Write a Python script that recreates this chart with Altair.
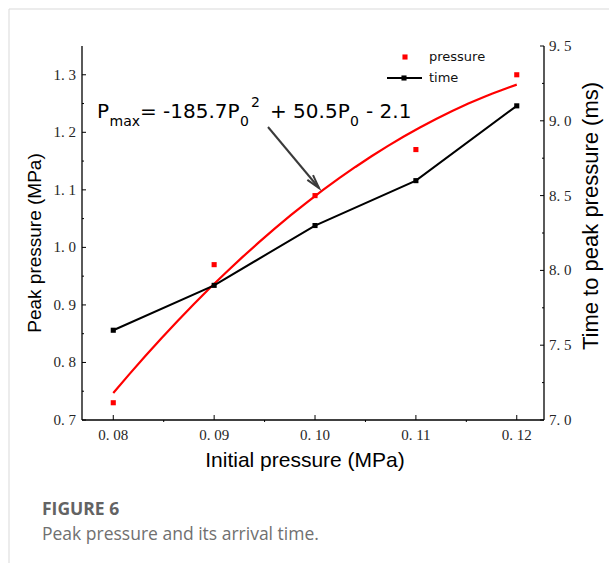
import altair as alt
import pandas as pd

# ---------------- data ----------------
initial_pressure = [0.08, 0.09, 0.10, 0.11, 0.12]
peak_pressure = [0.73, 0.97, 1.09, 1.17, 1.30]
peak_time = [7.6, 7.9, 8.3, 8.6, 9.1]

x_major = [0.08, 0.09, 0.10, 0.11, 0.12]
x_labels = ["0. 08", "0. 09", "0. 10", "0. 11", "0. 12"]
x_minor = [0.085, 0.095, 0.105, 0.115]
p_major = [0.7, 0.8, 0.9, 1.0, 1.1, 1.2, 1.3]
p_labels = ["0. 7", "0. 8", "0. 9", "1. 0", "1. 1", "1. 2", "1. 3"]
p_minor = [0.75, 0.85, 0.95, 1.05, 1.15, 1.25]
t_major = [7.0, 7.5, 8.0, 8.5, 9.0, 9.5]
t_labels = ["7. 0", "7. 5", "8. 0", "8. 5", "9. 0", "9. 5"]
t_minor = [7.25, 7.75, 8.25, 8.75, 9.25]

df = pd.DataFrame({"P0": initial_pressure, "Pmax": peak_pressure, "t": peak_time})
one = pd.DataFrame({"k": [0]})

# ---------------- layout ----------------
W, H = 462, 374
PAD = {"left": 82, "top": 46, "right": 65, "bottom": 143}
LABEL_FONT = "Liberation Serif"
LABEL_SIZE = 15
LABEL_COLOR = "#262626"

xscale = alt.Scale(domain=[0.0769, 0.1227], nice=False, zero=False)
pscale = alt.Scale(domain=[0.7, 1.35], nice=False, zero=False)
tscale = alt.Scale(domain=[7.0, 9.5], nice=False, zero=False)

X = alt.X("P0:Q", scale=xscale, axis=None)
base = alt.Chart(df)


def rule(**enc):
    return alt.Chart(one).mark_rule(color="black", strokeWidth=1.3).encode(**enc)


# ---- pressure (left axis) ----
red_pts = base.mark_square(color="#ff0000", size=26, opacity=1).encode(
    x=X, y=alt.Y("Pmax:Q", scale=pscale, axis=None))
fit = base.transform_regression("P0", "Pmax", method="poly", order=2).mark_line(
    color="#ff0000", strokeWidth=2.2).encode(
    x=X, y=alt.Y("Pmax:Q", scale=pscale, axis=None))
p_maj_ticks = alt.Chart(pd.DataFrame({"v": p_major})).mark_rule(color="black", strokeWidth=1).encode(
    y=alt.Y("v:Q", scale=pscale, axis=None), x=alt.value(0), x2=alt.value(4))
p_min_ticks = alt.Chart(pd.DataFrame({"v": p_minor})).mark_rule(color="black", strokeWidth=1).encode(
    y=alt.Y("v:Q", scale=pscale, axis=None), x=alt.value(0), x2=alt.value(2))
p_lab = alt.Chart(pd.DataFrame({"v": p_major, "lab": p_labels})).mark_text(
    font=LABEL_FONT, fontSize=LABEL_SIZE, color=LABEL_COLOR, align="right", baseline="middle").encode(
    y=alt.Y("v:Q", scale=pscale, axis=None), x=alt.value(-6), text="lab:N")
pressure_group = alt.layer(fit, red_pts, p_maj_ticks, p_min_ticks, p_lab)

# ---- time (right axis) ----
t_line = base.mark_line(color="black", strokeWidth=2).encode(
    x=X, y=alt.Y("t:Q", scale=tscale, axis=None))
t_pts = base.mark_square(color="black", size=26, opacity=1).encode(
    x=X, y=alt.Y("t:Q", scale=tscale, axis=None))
t_maj_ticks = alt.Chart(pd.DataFrame({"v": t_major})).mark_rule(color="black", strokeWidth=1).encode(
    y=alt.Y("v:Q", scale=tscale, axis=None), x=alt.value(W), x2=alt.value(W - 4))
t_min_ticks = alt.Chart(pd.DataFrame({"v": t_minor})).mark_rule(color="black", strokeWidth=1).encode(
    y=alt.Y("v:Q", scale=tscale, axis=None), x=alt.value(W), x2=alt.value(W - 2))
t_lab = alt.Chart(pd.DataFrame({"v": t_major, "lab": t_labels})).mark_text(
    font=LABEL_FONT, fontSize=LABEL_SIZE, color=LABEL_COLOR, align="left", baseline="middle").encode(
    y=alt.Y("v:Q", scale=tscale, axis=None), x=alt.value(W + 5), text="lab:N")
time_group = alt.layer(t_line, t_pts, t_maj_ticks, t_min_ticks, t_lab)

# ---- x axis ----
x_maj_ticks = alt.Chart(pd.DataFrame({"v": x_major})).mark_rule(color="black", strokeWidth=1).encode(
    x=alt.X("v:Q", scale=xscale, axis=None), y=alt.value(H), y2=alt.value(H - 5))
x_min_ticks = alt.Chart(pd.DataFrame({"v": x_minor})).mark_rule(color="black", strokeWidth=1).encode(
    x=alt.X("v:Q", scale=xscale, axis=None), y=alt.value(H), y2=alt.value(H + 2))
x_lab = alt.Chart(pd.DataFrame({"v": x_major, "lab": x_labels})).mark_text(
    font=LABEL_FONT, fontSize=LABEL_SIZE, color=LABEL_COLOR, align="center", baseline="top").encode(
    x=alt.X("v:Q", scale=xscale, axis=None), y=alt.value(H + 8), text="lab:N")

deco = [x_maj_ticks, x_min_ticks, x_lab]
# axis lines (left, right, bottom)
deco.append(rule(x=alt.value(0), y=alt.value(0), y2=alt.value(H)))
deco.append(rule(x=alt.value(W), y=alt.value(0), y2=alt.value(H)))
deco.append(rule(x=alt.value(0), x2=alt.value(W), y=alt.value(H)))

c1 = alt.Chart(one)
# axis titles
deco.append(c1.mark_text(text="Initial pressure (MPa)", font="Liberation Sans", fontSize=21,
                         align="center", baseline="alphabetic", color="black").encode(
    x=alt.value(223), y=alt.value(H + 47)))
deco.append(c1.mark_text(text="Peak pressure (MPa)", font="Liberation Sans", fontSize=19,
                         angle=270, align="center", baseline="middle", color="black").encode(
    x=alt.value(-47), y=alt.value(197)))
deco.append(c1.mark_text(text="Time to peak pressure (ms)", font="Liberation Sans", fontSize=22,
                         angle=270, align="center", baseline="middle", color="black").encode(
    x=alt.value(W + 47), y=alt.value(170)))

# equation annotation (pieces: text, font size, dx, dy)
pieces = [("P", 20, 0, 0), ("max", 14, 12.5, 8), ("= -185.7P", 20, 43, 0),
          ("0", 14, 143, 8), ("2", 14, 154, -11), ("+ 50.5P", 20, 173, 0),
          ("0", 14, 253, 8), ("- 2.1", 20, 269, 0)]
for txt, fs, dx, dy in pieces:
    deco.append(c1.mark_text(text=txt, font="DejaVu Sans", fontSize=fs, align="left",
                             baseline="alphabetic", dx=dx, dy=dy, color="black").encode(
        x=alt.value(15), y=alt.value(72)))
# arrow
deco.append(c1.mark_rule(color="#3a3a3a", strokeWidth=2).encode(
    x=alt.value(186), y=alt.value(81), x2=alt.value(237), y2=alt.value(142)))
deco.append(c1.mark_point(shape="M-0.27,-1L0,0L0.27,-1", size=750, angle=320, filled=False,
                          color="#3a3a3a", strokeWidth=2, opacity=1).encode(
    x=alt.value(237), y=alt.value(142)))
# legend
deco.append(c1.mark_square(color="#ff0000", size=26, opacity=1).encode(
    x=alt.value(323), y=alt.value(11)))
deco.append(c1.mark_text(text="pressure", font="DejaVu Sans", fontSize=13, align="left",
                         baseline="middle", color="#111111").encode(
    x=alt.value(347), y=alt.value(11)))
deco.append(c1.mark_rule(color="black", strokeWidth=2).encode(
    x=alt.value(305), x2=alt.value(340), y=alt.value(32)))
deco.append(c1.mark_square(color="black", size=26, opacity=1).encode(
    x=alt.value(322), y=alt.value(32)))
deco.append(c1.mark_text(text="time", font="DejaVu Sans", fontSize=13, align="left",
                         baseline="middle", color="#111111").encode(
    x=alt.value(347), y=alt.value(32)))
# card border
deco.append(c1.mark_rule(color="#d9d9d9", strokeWidth=1).encode(
    x=alt.value(-73), x2=alt.value(527), y=alt.value(-37)))
deco.append(c1.mark_rule(color="#d9d9d9", strokeWidth=1).encode(
    x=alt.value(-73), y=alt.value(-37), y2=alt.value(517)))
# caption
deco.append(c1.mark_text(text="FIGURE 6", font="Open Sans", fontSize=17.5, fontWeight="bold",
                         align="left", baseline="alphabetic", color="#636363").encode(
    x=alt.value(-40), y=alt.value(469)))
deco.append(c1.mark_text(text="Peak pressure and its arrival time.", font="Open Sans",
                         fontSize=17.5, align="left", baseline="alphabetic",
                         color="#707070").encode(
    x=alt.value(-40), y=alt.value(494)))

chart = alt.layer(pressure_group, time_group, *deco).resolve_scale(
    y="independent").properties(
    width=W, height=H, padding=PAD, autosize=alt.AutoSizeParams(type="none"),
    background="white",
).configure_view(stroke=None)

chart.save("out.html", embed_options={"renderer": "svg", "actions": False})
